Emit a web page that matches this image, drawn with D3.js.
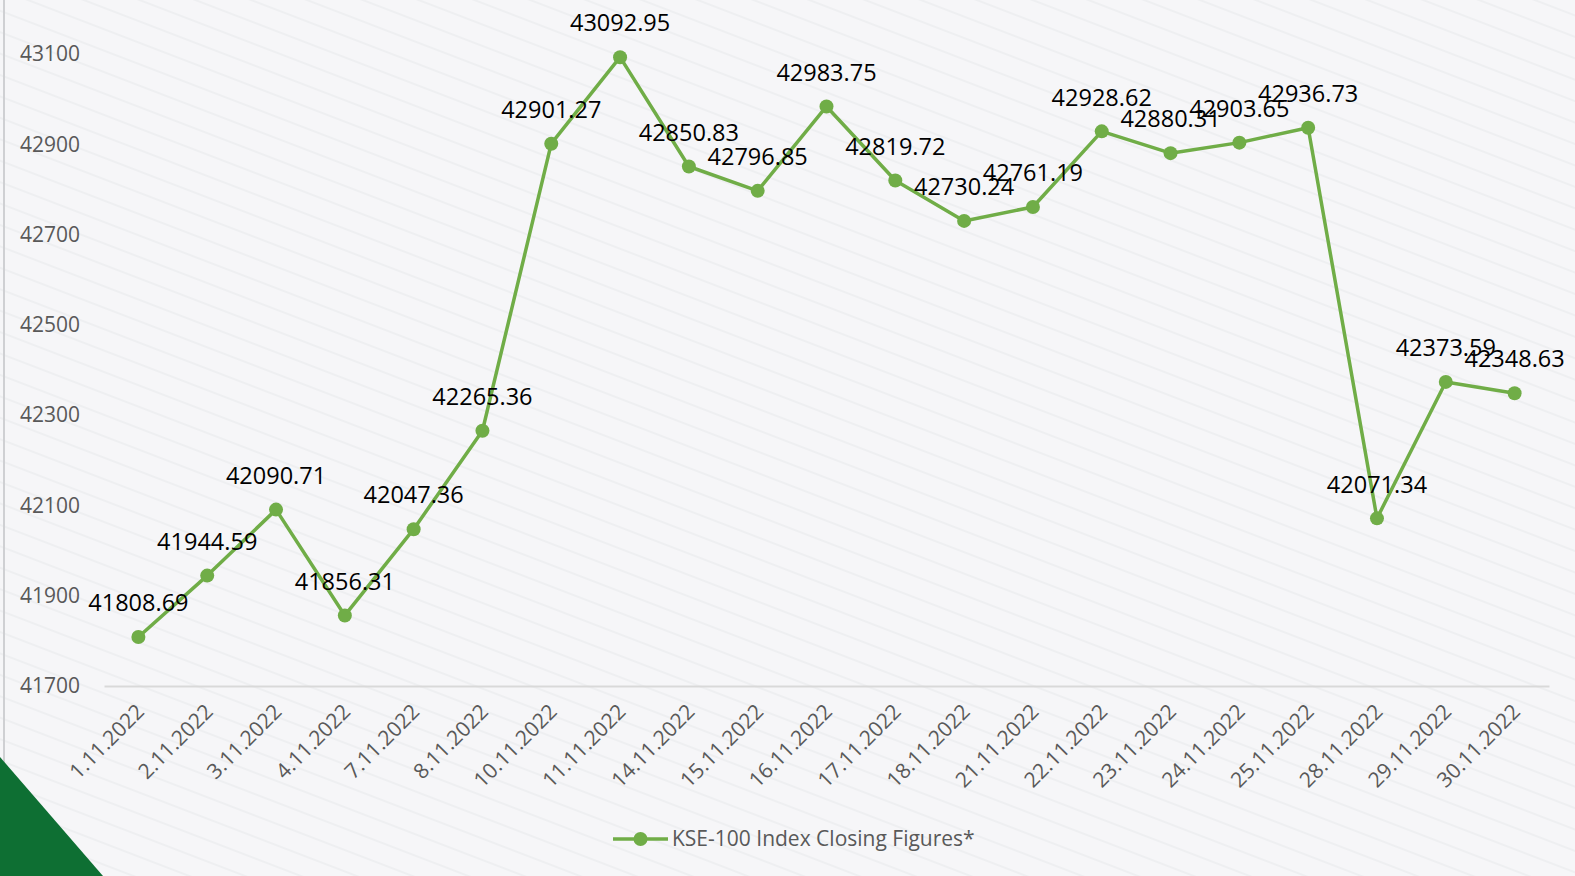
<!DOCTYPE html>
<html lang="en">
  <head>
    <meta charset="UTF-8" />
    <title>KSE-100 Index Closing Figures</title>
    <style>
      html, body { margin: 0; padding: 0; background: #f6f6f8; }
      svg { display: block; }
    </style>
  </head>
  <body>
    <svg id="svg" width="1575" height="876"></svg>

    <script src="https://d3js.org/d3.v7.min.js"></script>
    <script>
      const dates = ["1.11.2022", "2.11.2022", "3.11.2022", "4.11.2022", "7.11.2022", "8.11.2022",
        "10.11.2022", "11.11.2022", "14.11.2022", "15.11.2022", "16.11.2022", "17.11.2022",
        "18.11.2022", "21.11.2022", "22.11.2022", "23.11.2022", "24.11.2022", "25.11.2022",
        "28.11.2022", "29.11.2022", "30.11.2022"];
      const closing = [41808.69, 41944.59, 42090.71, 41856.31, 42047.36, 42265.36,
        42901.27, 43092.95, 42850.83, 42796.85, 42983.75, 42819.72,
        42730.24, 42761.19, 42928.62, 42880.31, 42903.65, 42936.73,
        42071.34, 42373.59, 42348.63];
      const yTicks = [41700, 41900, 42100, 42300, 42500, 42700, 42900, 43100];
      const seriesName = "KSE-100 Index Closing Figures*";

      const data = dates.map((d, i) => ({ date: d, value: closing[i] }));

      const svg = d3.select("#svg");
      const W = 1575, H = 876;
      const green = "#70ad47";
      const font = "'Open Sans', sans-serif";

      // striped background
      const defs = svg.append("defs");
      const pat = defs.append("pattern")
        .attr("id", "stripes")
        .attr("patternUnits", "userSpaceOnUse")
        .attr("width", 20)
        .attr("height", 20)
        .attr("patternTransform", "rotate(21)");
      pat.append("rect").attr("width", 20).attr("height", 20).attr("fill", "#f6f6f8");
      pat.append("line")
        .attr("x1", 0).attr("x2", 20).attr("y1", 10).attr("y2", 10)
        .attr("stroke", "#ebecef").attr("stroke-width", 1.4);
      svg.append("rect").attr("width", W).attr("height", H).attr("fill", "url(#stripes)");

      // left edge line
      svg.append("line")
        .attr("x1", 4).attr("x2", 4).attr("y1", 0).attr("y2", H)
        .attr("stroke", "#cfd0d3").attr("stroke-width", 2);

      // green corner
      svg.append("path")
        .attr("d", `M0,757 L103,${H} L0,${H} Z`)
        .attr("fill", "#0e6f33");

      const x = d3.scaleBand().domain(dates).range([104, 1549]);
      const y = d3.scaleLinear().domain([41700, 43100]).range([686, 54]);
      const cx = (d) => x(d.date) + x.bandwidth() / 2;

      // y tick labels
      svg.append("g")
        .selectAll("text")
        .data(yTicks)
        .enter()
        .append("text")
        .attr("x", 20)
        .attr("y", (d) => y(d))
        .attr("dy", "0.35em")
        .attr("font-family", font)
        .attr("font-size", 21)
        .attr("fill", "#595959")
        .text((d) => d);

      // x axis
      const xAxis = svg.append("g")
        .attr("transform", `translate(0,${y(41700)})`)
        .call(d3.axisBottom(x).tickSize(0).tickPadding(0));
      xAxis.select(".domain").attr("stroke", "#d9d9d9").attr("stroke-width", 2);
      xAxis.selectAll("text")
        .attr("font-family", font)
        .attr("font-size", 21)
        .attr("fill", "#595959")
        .attr("text-anchor", "end")
        .attr("dy", 0)
        .attr("transform", "translate(7,27) rotate(-45)");

      // line
      svg.append("path")
        .datum(data)
        .attr("fill", "none")
        .attr("stroke", green)
        .attr("stroke-width", 3.5)
        .attr("stroke-linejoin", "round")
        .attr("d", d3.line().x(cx).y((d) => y(d.value)));

      svg.append("g")
        .selectAll("circle")
        .data(data)
        .enter()
        .append("circle")
        .attr("cx", cx)
        .attr("cy", (d) => y(d.value))
        .attr("r", 7)
        .attr("fill", green);

      // data labels
      svg.append("g")
        .selectAll("text")
        .data(data)
        .enter()
        .append("text")
        .attr("x", cx)
        .attr("y", (d) => y(d.value) - 34)
        .attr("dy", "0.35em")
        .attr("text-anchor", "middle")
        .attr("font-family", font)
        .attr("font-size", 23.5)
        .attr("fill", "#000")
        .text((d) => d.value.toFixed(2));

      // legend
      const lg = svg.append("g").attr("transform", "translate(613,839)");
      lg.append("line").attr("x1", 0).attr("x2", 55).attr("stroke", green).attr("stroke-width", 3.5);
      lg.append("circle").attr("cx", 27.5).attr("r", 7).attr("fill", green);
      lg.append("text")
        .attr("x", 59)
        .attr("dy", "0.35em")
        .attr("font-family", font)
        .attr("font-size", 21)
        .attr("fill", "#595959")
        .text(seriesName);
    </script>
  </body>
</html>
